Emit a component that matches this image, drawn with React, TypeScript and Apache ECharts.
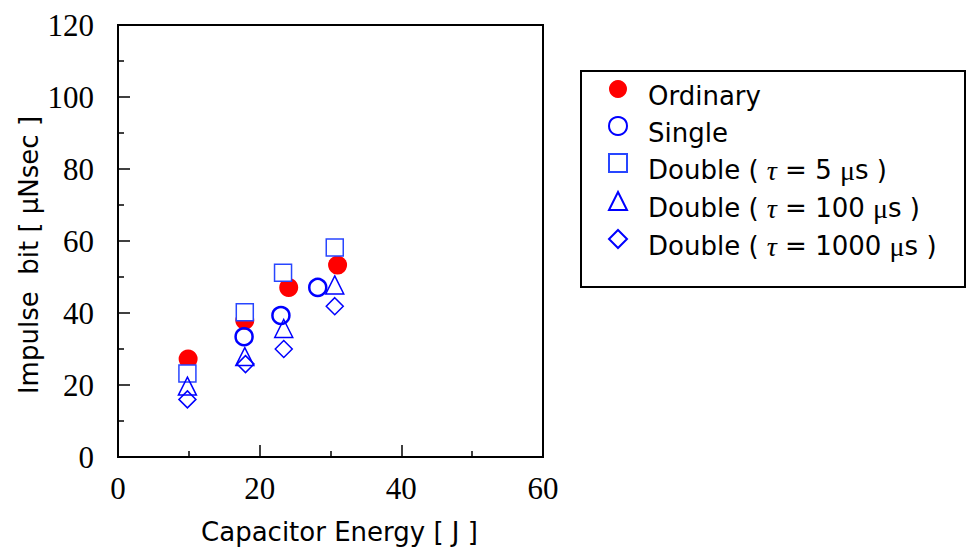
import React, { useEffect, useRef } from "react";
import * as echarts from "echarts";

const seriesNames = [
  "Ordinary",
  "Single",
  "Double ( τ = 5 μs )",
  "Double ( τ = 100 μs )",
  "Double ( τ = 1000 μs )",
];

const ordinaryData: [number, number][] = [
  [9.9, 27.2],
  [17.9, 38.0],
  [24.1, 47.1],
  [31.0, 53.3],
];
const singleData: [number, number][] = [
  [17.8, 33.4],
  [23.0, 39.3],
  [28.2, 47.1],
];
const double5Data: [number, number][] = [
  [9.8, 23.2],
  [17.9, 40.2],
  [23.3, 51.2],
  [30.6, 58.2],
];
const double100Data: [number, number][] = [
  [9.8, 19.7],
  [17.9, 27.9],
  [23.4, 35.7],
  [30.6, 47.8],
];
const double1000Data: [number, number][] = [
  [9.8, 16.0],
  [18.0, 25.8],
  [23.4, 30.0],
  [30.6, 41.9],
];

const xTitle = "Capacitor Energy [ J ]";
const yTitle = "Impulse  bit [ μNsec ]";

const SANS = "DejaVu Sans";
const SERIF = "Liberation Serif";

export default function App() {
  const ref = useRef<HTMLDivElement>(null);
  useEffect(() => {
    if (!ref.current) return;
    const chart = echarts.init(ref.current, null, { renderer: "svg" });
    const blue = "#0000ff";
    const option: any = {
      animation: false,
      backgroundColor: "#ffffff",
      grid: {
        left: 118,
        top: 25,
        width: 425,
        height: 432,
        show: true,
        borderColor: "#000",
        borderWidth: 2,
        backgroundColor: "transparent",
      },
      xAxis: {
        type: "value",
        min: 0,
        max: 60,
        interval: 20,
        name: xTitle,
        nameLocation: "middle",
        nameGap: 62,
        nameTextStyle: { fontFamily: SANS, fontSize: 26, color: "#000", padding: [0, 0, 0, 18] },
        axisLine: { show: true, onZero: false, lineStyle: { color: "#000", width: 2 } },
        axisTick: { show: true, inside: true, length: 12, lineStyle: { color: "#000", width: 1.5 } },
        minorTick: { show: true, splitNumber: 2, length: 6, lineStyle: { color: "#000", width: 1.5 } },
        axisLabel: { fontFamily: SERIF, fontSize: 31, color: "#000", margin: 16 },
        splitLine: { show: false },
      },
      yAxis: {
        type: "value",
        min: 0,
        max: 120,
        interval: 20,
        name: yTitle,
        nameLocation: "middle",
        nameGap: 76,
        nameRotate: 90,
        nameTextStyle: { fontFamily: SANS, fontSize: 26, color: "#000", padding: [0, 28, 0, 0] },
        axisLine: { show: true, onZero: false, lineStyle: { color: "#000", width: 2 } },
        axisTick: { show: true, inside: true, length: 12, lineStyle: { color: "#000", width: 1.5 } },
        minorTick: { show: true, splitNumber: 2, length: 6, lineStyle: { color: "#000", width: 1.5 } },
        axisLabel: { fontFamily: SERIF, fontSize: 31, color: "#000", margin: 24 },
        splitLine: { show: false },
      },
      legend: {
        orient: "vertical",
        left: 608,
        top: 69,
        padding: 0,
        itemGap: -3,
        itemWidth: 18,
        itemHeight: 18,
        data: seriesNames,
        selectedMode: false,
        formatter: (name: string) =>
          name.replace("τ", "{tau|τ}").replace("μ", "{mu|μ}"),
        textStyle: {
          fontFamily: SANS,
          fontSize: 26,
          color: "#000",
          lineHeight: 26,
          padding: [14, 0, 0, 16],
          rich: {
            tau: { fontFamily: SERIF, fontStyle: "italic", fontSize: 28, color: "#000", lineHeight: 26 },
            mu: { fontFamily: SERIF, fontSize: 28, color: "#000", lineHeight: 26 },
          },
        },
      },
      graphic: [
        {
          type: "rect",
          shape: { x: 581, y: 71, width: 384, height: 216 },
          style: { fill: "none", stroke: "#000", lineWidth: 2 },
          z: 100,
        },
      ],
      series: [
        {
          name: seriesNames[0],
          type: "scatter",
          data: ordinaryData,
          symbol: "circle",
          symbolSize: 19,
          itemStyle: { color: "#ff0000", opacity: 1 },
        },
        {
          name: seriesNames[1],
          type: "scatter",
          data: singleData,
          symbol: "circle",
          symbolSize: 17,
          itemStyle: { color: "rgba(255,255,255,0)", borderColor: blue, borderWidth: 2.5, opacity: 1 },
        },
        {
          name: seriesNames[2],
          type: "scatter",
          data: double5Data,
          symbol: "rect",
          symbolSize: 17,
          itemStyle: { color: "#ffffff", borderColor: "#2846ff", borderWidth: 1.5, opacity: 1 },
        },
        {
          name: seriesNames[3],
          type: "scatter",
          data: double100Data,
          symbol: "triangle",
          symbolSize: 18,
          itemStyle: { color: "rgba(255,255,255,0)", borderColor: blue, borderWidth: 1.5, opacity: 1 },
        },
        {
          name: seriesNames[4],
          type: "scatter",
          data: double1000Data,
          symbol: "diamond",
          symbolSize: 17,
          itemStyle: { color: "rgba(255,255,255,0)", borderColor: blue, borderWidth: 1.5, opacity: 1 },
        },
      ],
    };
    chart.setOption(option);
    return () => chart.dispose();
  }, []);
  return (
    <div
      ref={ref}
      style={{ position: "fixed", left: 0, top: 0, width: 966, height: 550, background: "#fff" }}
    />
  );
}
